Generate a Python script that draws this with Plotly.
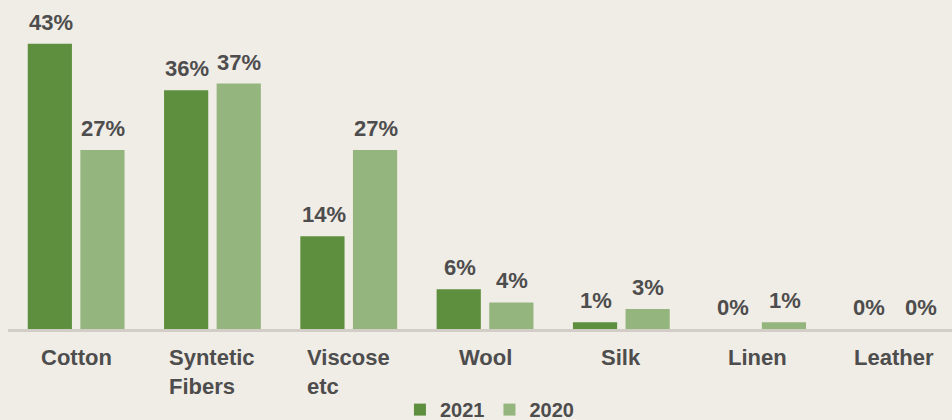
import plotly.graph_objects as go

# Fibre mix by material, share of total (%)
categories = ["Cotton", "Syntetic<br>Fibers", "Viscose<br>etc", "Wool", "Silk", "Linen", "Leather"]
share_2021 = [43, 36, 14, 6, 1, 0, 0]
share_2020 = [27, 37, 27, 4, 3, 1, 0]

BG = "#F0ECE6"
TEXT = "#4D4D4D"
FONT = "Liberation Sans, Arial, sans-serif"
GREEN_DARK = "#5E8F3E"
GREEN_LIGHT = "#95B57E"

fig = go.Figure()
fig.add_trace(go.Bar(name="2021", x=categories, y=share_2021,
                     marker=dict(color=GREEN_DARK, line=dict(width=0))))
fig.add_trace(go.Bar(name="2020", x=categories, y=share_2020,
                     marker=dict(color=GREEN_LIGHT, line=dict(width=0))))

annotations = []
# value labels above each bar, shifted to the bar's slot in the group
for series, shift in ((share_2021, -25), (share_2020, 27)):
    for cat, v in zip(categories, series):
        annotations.append(dict(
            x=cat, y=v, xref="x", yref="y", text=f"{v}%", showarrow=False,
            xanchor="center", yanchor="bottom", xshift=shift, yshift=7,
            font=dict(family=FONT, size=22, color=TEXT, weight="bold")))

# category labels under the axis, lines left-aligned within each block
for cat in categories:
    annotations.append(dict(
        x=cat, y=0, xref="x", yref="y", text=cat, showarrow=False,
        xanchor="center", yanchor="top", yshift=-14, align="left",
        font=dict(family=FONT, size=22, color=TEXT, weight="bold")))

fig.update_layout(
    width=952, height=420, autosize=False,
    paper_bgcolor=BG, plot_bgcolor=BG,
    margin=dict(l=8, r=0, t=0, b=91, autoexpand=False),
    barmode="group", bargap=0.228, bargroupgap=0.16,
    showlegend=True,
    legend=dict(orientation="h", x=0.51, xanchor="center", y=-0.245, yanchor="middle",
                font=dict(family=FONT, size=20, color=TEXT, weight="bold"),
                itemwidth=30, bgcolor="rgba(0,0,0,0)"),
    xaxis=dict(range=[-0.5, 6.426], showticklabels=False, showgrid=False, zeroline=False,
               showline=True, linecolor="#D2CDC6", linewidth=3, ticks=""),
    yaxis=dict(range=[0, 49.6], visible=False, showgrid=False, zeroline=False),
    annotations=annotations,
)

fig.write_html("out.html")
